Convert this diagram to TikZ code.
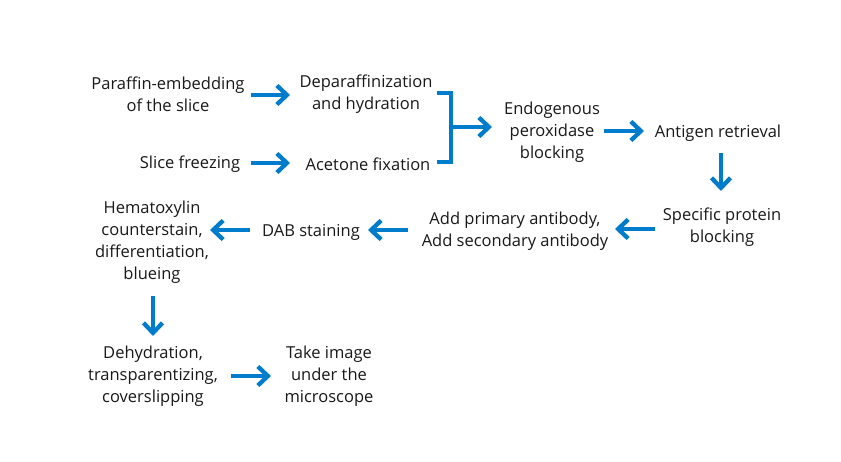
\documentclass[tikz,border=0pt]{standalone}
\usepackage{fontspec}
\setmainfont{Open Sans}
\usetikzlibrary{arrows.meta}
\definecolor{flowblue}{RGB}{0,124,204}
\tikzset{
  lbl/.style={align=center, inner sep=0pt, yshift=-2pt, font=\fontsize{16.5}{22}\selectfont, text=black!90},
  flow/.style={draw=flowblue, line width=4.3pt, -{Straight Barb[length=10pt,width=19pt]}},
  bline/.style={draw=flowblue, line width=4.3pt},
}
\begin{document}
\begin{tikzpicture}[x=1pt,y=-1pt]
\path[use as bounding box, fill=white] (0,0) rectangle (841,462);
\node[lbl] (par) at (168,92) {Paraffin-embedding\\of the slice};
\node[lbl] (dep) at (366,92) {Deparaffinization\\and hydration};
\node[lbl] (sf) at (190,162) {Slice freezing};
\node[lbl] (ace) at (368,162) {Acetone fixation};
\node[lbl] (endo) at (552,130) {Endogenous\\peroxidase\\blocking};
\node[lbl] (ant) at (718,131) {Antigen retrieval};
\node[lbl] (spec) at (722,225) {Specific protein\\blocking};
\node[lbl] (add) at (515,229) {Add primary antibody,\\Add secondary antibody};
\node[lbl] (dab) at (311,230) {DAB staining};
\node[lbl] (hem) at (152,240) {Hematoxylin\\counterstain,\\differentiation,\\blueing};
\node[lbl] (deh) at (153,374) {Dehydration,\\transparentizing,\\coverslipping};
\node[lbl] (img) at (329,374) {Take image\\under the\\microscope};

\coordinate (bt) at (451,93);
\coordinate (bb) at (451,162);
\coordinate (bm) at (451,127);

\draw[flow] ([shift={(83,1)}]par.center) -- ([shift={(-76,1)}]dep.center);
\draw[flow] ([shift={(61,-1)}]sf.center) -- ([shift={(-78,-1)}]ace.center);
\draw[bline] ([shift={(71,-1)}]dep.center) -- (bt) -- (bb) -- ([shift={(69,-2)}]ace.center);
\draw[flow] (bm) -- ([shift={(-60,-5)}]endo.center);
\draw[flow] ([shift={(52,-1)}]endo.center) -- ([shift={(-74,-2)}]ant.center);
\draw[flow] ([shift={(3,20)}]ant.center) -- ([shift={(-1,-36)}]spec.center);
\draw[flow] ([shift={(-67,2)}]spec.center) -- ([shift={(100,-2)}]add.center);
\draw[flow] ([shift={(-107,-1)}]add.center) -- ([shift={(57,-2)}]dab.center);
\draw[flow] ([shift={(-61,-2)}]dab.center) -- ([shift={(58,-12)}]hem.center);
\draw[flow] ([shift={(1,54)}]hem.center) -- ([shift={(0,-40)}]deh.center);
\draw[flow] ([shift={(78,0)}]deh.center) -- ([shift={(-58,0)}]img.center);
\end{tikzpicture}
\end{document}
